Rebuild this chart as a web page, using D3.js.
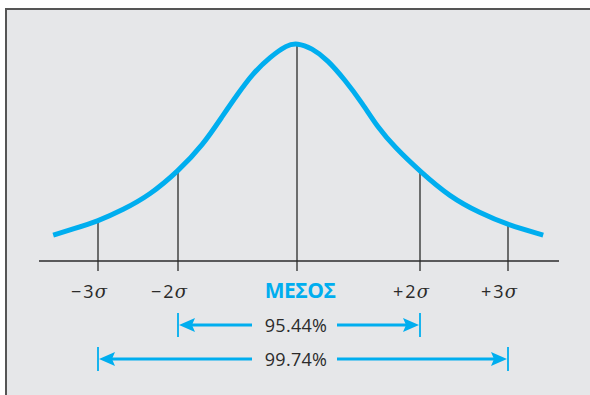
<!DOCTYPE html>
<html>
<head>
<meta charset="utf-8">
<script src="https://cdn.jsdelivr.net/npm/d3@7"></script>
<style>
html,body{margin:0;padding:0;background:#fff;}
svg{display:block;}
</style>
</head>
<body>
<svg id="chart" width="590" height="395"></svg>
<script>
// ---- data ----
// sample points of the bell curve: position in sigma units and relative height (peak = 100)
const curveSigma  = [-3.56,-3.31,-3.0,-2.69,-2.35,-2.0,-1.58,-1.24,-1.01,-0.74,-0.45,-0.17,0,0.24,0.5,0.78,1.06,1.32,1.59,2.0,2.34,2.68,3.0,3.4];
const curveHeight = [11.9,14.7,18.3,23.4,30.3,41.1,53.2,67.0,76.1,86.2,93.6,99.1,100,97.7,92.2,83.0,72.5,61.0,52.2,41.1,29.4,22.0,16.5,11.9];
// marked positions on the axis
const markSigma  = [-3,-2,0,2,3];
const markLabels = ["\u22123\u03c3","\u22122\u03c3","\u039c\u0395\u03a3\u039f\u03a3","+2\u03c3","+3\u03c3"];
// coverage ranges
const rangeSigma  = [2,3];
const rangeLabels = ["95.44%","99.74%"];

const blue = "#00aeef", dark = "#2b2b2b";
const svg = d3.select("#chart");

// frame
svg.append("rect").attr("x",6).attr("y",9).attr("width",600).attr("height",400)
  .attr("fill","#e6e7e9").attr("stroke","#555").attr("stroke-width",2);

// scales (the drawing is stylised: the sigma spacing is not uniform)
const x = d3.scaleLinear().domain([-3,-2,0,2,3]).range([98,178,297,420,508]);
const y = d3.scaleLinear().domain([0,100]).range([261,43]);

const pts = curveSigma.map((s,i)=>({s, h:curveHeight[i]}));
const heightAt = s => curveHeight[curveSigma.indexOf(s)];

// axis line
svg.append("line").attr("x1",39).attr("x2",559).attr("y1",y(0)).attr("y2",y(0))
  .attr("stroke",dark).attr("stroke-width",1.4);

// vertical marks
svg.selectAll("line.mark").data(markSigma).join("line").attr("class","mark")
  .attr("x1",d=>x(d)).attr("x2",d=>x(d))
  .attr("y1",y(0)+10).attr("y2",d=>y(heightAt(d))+1)
  .attr("stroke",dark).attr("stroke-width",1.3);

// curve
svg.append("path").datum(pts)
  .attr("d", d3.line().x(d=>x(d.s)).y(d=>y(d.h)).curve(d3.curveBasis))
  .attr("fill","none").attr("stroke",blue).attr("stroke-width",5).attr("stroke-linecap","butt");

// labels
svg.selectAll("text.mark").data(markSigma).join("text").attr("class","mark")
  .attr("x",(d)=> d===0 ? x(d)+3 : x(d)-9)
  .attr("y",298)
  .attr("text-anchor","middle")
  .attr("font-family","'Open Sans','Noto Sans',sans-serif")
  .attr("font-size",(d)=> d===0 ? 21 : 18)
  .attr("font-weight",(d)=> d===0 ? 700 : 400)
  .attr("fill",(d)=> d===0 ? blue : dark)
  .attr("letter-spacing",(d)=> d===0 ? -0.5 : 0)
  .each(function(d,i){
    const t = d3.select(this);
    const lab = markLabels[i];
    if (d===0) { t.text(lab); return; }
    t.append("tspan").text(lab.slice(0,1));
    t.append("tspan").attr("dx",2).text(lab.slice(1,-1));
    t.append("tspan").attr("dx",1).attr("font-style","italic").attr("font-family","'DejaVu Serif','Liberation Serif',serif").text(lab.slice(-1));
  });

// range arrows
const rowY = [325,359];
const g = svg.append("g");
rangeSigma.forEach((k,i)=>{
  const yy = rowY[i];
  const xl = x(-k), xr = x(k);
  const gapL = 252, gapR = 337;
  [xl,xr].forEach(xx=>g.append("line").attr("x1",xx).attr("x2",xx).attr("y1",yy-12).attr("y2",yy+12)
    .attr("stroke",blue).attr("stroke-width",1.8));
  g.append("line").attr("x1",xl+12).attr("x2",gapL).attr("y1",yy).attr("y2",yy).attr("stroke",blue).attr("stroke-width",3);
  g.append("line").attr("x1",gapR).attr("x2",xr-12).attr("y1",yy).attr("y2",yy).attr("stroke",blue).attr("stroke-width",3);
  g.append("path").attr("d",`M${xl+1},${yy} L${xl+17},${yy-7} L${xl+14},${yy} L${xl+17},${yy+7} Z`).attr("fill",blue);
  g.append("path").attr("d",`M${xr-1},${yy} L${xr-17},${yy-7} L${xr-14},${yy} L${xr-17},${yy+7} Z`).attr("fill",blue);
  g.append("text").attr("x",296).attr("y",yy+6.5).attr("text-anchor","middle")
    .attr("font-family","'Open Sans','Noto Sans',sans-serif").attr("font-size",18)
    .attr("letter-spacing",0.3)
    .attr("fill",dark).text(rangeLabels[i]);
});
</script>
</body>
</html>
